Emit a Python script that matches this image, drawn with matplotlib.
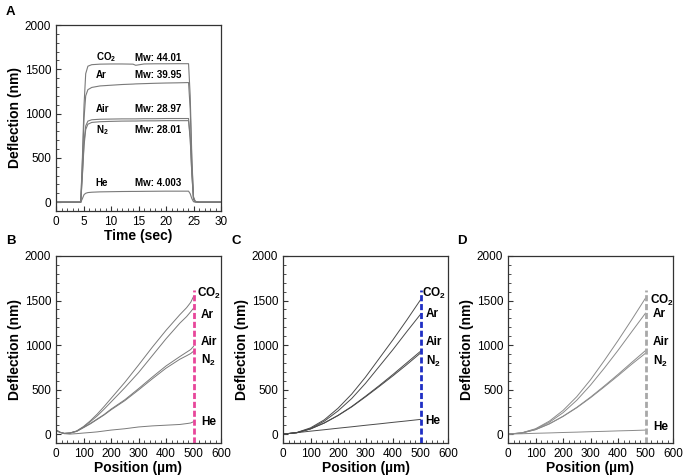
import matplotlib
matplotlib.use('Agg')
import matplotlib.pyplot as plt
from matplotlib.ticker import MultipleLocator

plt.rcParams['font.family'] = ['Liberation Sans', 'DejaVu Sans']
plt.rcParams['mathtext.default'] = 'regular'

gases = ['CO$_2$', 'Ar', 'Air', 'N$_2$', 'He']
mw_labels = ['Mw: 44.01', 'Mw: 39.95', 'Mw: 28.97', 'Mw: 28.01', 'Mw: 4.003']

# Panel A: deflection vs time
time_s = [0, 4.5, 4.8, 5.1, 5.4, 5.8, 6.5, 8, 10, 12, 14, 14.5, 16, 18, 20, 22,
          24.1, 24.4, 24.7, 25.0, 25.3, 26, 30]
a_co2 = [0, 0, 500, 1100, 1450, 1535, 1552, 1558, 1560, 1560, 1558, 1545, 1560,
         1562, 1562, 1563, 1563, 1200, 500, 60, 10, 0, 0]
a_ar = [0, 0, 450, 950, 1200, 1270, 1295, 1312, 1320, 1328, 1333, 1335, 1338,
        1342, 1345, 1347, 1350, 1050, 450, 50, 8, 0, 0]
a_air = [0, 0, 320, 680, 860, 915, 930, 936, 938, 940, 940, 940, 942, 942, 944,
         944, 944, 730, 320, 35, 5, 0, 0]
a_n2 = [0, 0, 300, 640, 820, 880, 900, 908, 912, 915, 916, 916, 918, 918, 920,
        920, 920, 710, 310, 35, 5, 0, 0]
a_he = [0, 0, 40, 85, 100, 108, 112, 116, 118, 120, 121, 121, 122, 123, 124,
        124, 124, 95, 40, 5, 0, 0, 0]

# Panel B: measured deflection vs position
pos_b = [0, 15, 30, 50, 75, 100, 125, 150, 175, 200, 250, 300, 350, 400, 450,
         475, 490, 500]
b_co2 = [45, 20, 8, 12, 35, 85, 150, 225, 310, 400, 580, 775, 975, 1165, 1340,
         1420, 1480, 1545]
b_ar = [45, 20, 8, 12, 33, 80, 140, 205, 280, 360, 520, 690, 880, 1070, 1245,
        1320, 1375, 1414]
b_air = [45, 20, 8, 12, 32, 75, 120, 170, 220, 280, 385, 510, 640, 765, 870,
         920, 950, 985]
b_n2 = [40, 18, 6, 10, 30, 72, 115, 165, 215, 272, 375, 495, 620, 740, 840,
        880, 905, 930]
b_he = [45, 20, 5, 0, 5, 12, 18, 25, 35, 45, 60, 80, 92, 100, 108, 118, 125, 139]

# Panel C: deflection vs position
pos_c = [0, 50, 100, 150, 200, 250, 300, 350, 400, 450, 500]
c_co2 = [0, 18, 70, 160, 290, 450, 640, 850, 1060, 1280, 1508]
c_ar = [0, 16, 62, 145, 260, 400, 570, 760, 950, 1150, 1345]
c_air = [0, 15, 58, 125, 210, 310, 425, 545, 670, 800, 930]
c_n2 = [0, 15, 58, 124, 208, 306, 418, 535, 655, 780, 910]
c_he = [0, 16, 33, 49, 66, 82, 99, 115, 132, 148, 165]

# Panel D: deflection vs position
pos_d = [0, 50, 100, 150, 200, 250, 300, 350, 400, 450, 500]
d_co2 = [0, 14, 60, 145, 265, 420, 610, 825, 1050, 1285, 1527]
d_ar = [0, 13, 55, 132, 240, 380, 550, 740, 940, 1150, 1358]
d_air = [0, 12, 50, 115, 200, 300, 415, 540, 670, 805, 938]
d_n2 = [0, 12, 50, 114, 198, 296, 408, 530, 655, 785, 908]
d_he = [0, 4, 9, 13, 18, 22, 27, 31, 36, 40, 45]

fig = plt.figure(figsize=(6.85, 4.76), dpi=100)
W, H = 685, 476


def add_ax(x0, y_top, x1, y_bot):
    return fig.add_axes([x0 / W, 1 - y_bot / H, (x1 - x0) / W, (y_bot - y_top) / H])


def style(ax):
    for s in ax.spines.values():
        s.set_color('#333333')
        s.set_linewidth(0.9)
    ax.tick_params(which='both', direction='in', top=False, right=False,
                   labelsize=8.5, color='#333333')
    ax.tick_params(which='major', length=3.5, width=0.8)
    ax.tick_params(which='minor', length=2, width=0.6)


# Panel A
axA = add_ax(56, 25, 221, 211)
for ys in [a_co2, a_ar, a_air, a_n2, a_he]:
    axA.plot(time_s, ys, color='#7a7a7a', lw=0.8)
axA.set_xlim(0, 30)
axA.set_ylim(-100, 2000)
axA.xaxis.set_major_locator(MultipleLocator(5))
axA.xaxis.set_minor_locator(MultipleLocator(1))
axA.yaxis.set_major_locator(MultipleLocator(500))
axA.yaxis.set_minor_locator(MultipleLocator(100))
style(axA)
axA.set_xlabel('Time (sec)', fontsize=10, fontweight='bold', labelpad=1)
axA.set_ylabel('Deflection (nm)', fontsize=10, fontweight='bold', labelpad=2)
a_label_y = [1633, 1432, 1053, 818, 212]
for g, m, y in zip(gases, mw_labels, a_label_y):
    axA.text(7.2, y, g, fontsize=7, fontweight='bold', va='center', ha='left')
    axA.text(14.3, y, m, fontsize=7, fontweight='bold', va='center', ha='left')

panels = [
    (56, 221, pos_b, [b_co2, b_ar, b_air, b_n2, b_he], '#7a7a7a', '#e8469a',
     [511, 527, 527, 527, 527], [1583, 1339, 1039, 822, 138]),
    (283, 448, pos_c, [c_co2, c_ar, c_air, c_n2, c_he], '#4a4a4a', '#1f2fc4',
     [507, 519, 519, 519, 519], [1575, 1350, 1030, 820, 145]),
    (508, 673, pos_d, [d_co2, d_ar, d_air, d_n2, d_he], '#8a8a8a', '#a8a8a8',
     [516, 527, 527, 527, 527], [1500, 1350, 1030, 820, 78]),
]
for x0, x1, pos, series, lc, dc, lx, ly in panels:
    ax = add_ax(x0, 256, x1, 443)
    for ys in series:
        ax.plot(pos, ys, color=lc, lw=0.7)
    ax.plot([500, 500], [-100, 1620], color=dc, lw=2.0, ls=(0, (2.2, 1.0)))
    ax.set_xlim(0, 600)
    ax.set_ylim(-100, 2000)
    ax.xaxis.set_major_locator(MultipleLocator(100))
    ax.xaxis.set_minor_locator(MultipleLocator(20))
    ax.yaxis.set_major_locator(MultipleLocator(500))
    ax.yaxis.set_minor_locator(MultipleLocator(100))
    style(ax)
    ax.set_xlabel('Position (\u00b5m)', fontsize=10, fontweight='bold', labelpad=1)
    ax.set_ylabel('Deflection (nm)', fontsize=10, fontweight='bold', labelpad=2)
    for g, x, y in zip(gases, lx, ly):
        ax.text(x, y, g, fontsize=8.5, fontweight='bold', va='center', ha='left')

for letter, x, y in [('A', 6, 12), ('B', 6, 241), ('C', 232, 241), ('D', 457, 241)]:
    fig.text(x / W, 1 - y / H, letter, fontsize=9.5, fontweight='bold',
             va='center', ha='left')

fig.savefig('out.png', dpi=100)
